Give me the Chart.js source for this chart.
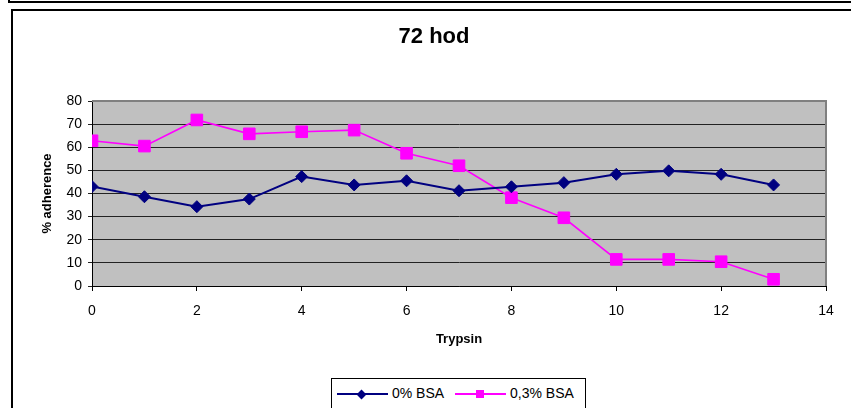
<!DOCTYPE html>
<html>
<head>
<meta charset="utf-8">
<script src="https://cdn.jsdelivr.net/npm/chart.js@4"></script>
<style>
  html, body { margin: 0; padding: 0; background: #fff; overflow: hidden; }
  body { width: 851px; height: 408px; position: relative; font-family: Arial, "Liberation Sans", sans-serif; }
  .frame-top { position: absolute; left: 8px; top: -18px; width: 900px; height: 21px; border: 2px solid #000; box-sizing: border-box; }
  .frame { position: absolute; left: 11px; top: 9px; width: 900px; height: 500px; border: 2px solid #000; box-sizing: border-box; }
  #chart { position: absolute; left: 0; top: 0; }
  .legend { position: absolute; left: 331px; top: 378px; width: 255px; height: 60px; border: 1px solid #000; background: #fff; box-sizing: border-box; }
  .legend .line { position: absolute; top: 14px; width: 51px; height: 0; border-top: 2px solid; }
  .legend .mark { position: absolute; width: 8px; height: 8px; left: 21px; top: -5px; }
  .legend .txt { position: absolute; top: 6px; font-size: 14px; color: #000; white-space: nowrap; }
</style>
</head>
<body>
<div class="frame-top"></div>
<div class="frame"></div>
<canvas id="chart" width="851" height="408"></canvas>
<div class="legend">
  <div class="line" style="left:5px;border-color:#000080">
    <div class="mark" style="background:#000080;transform:rotate(45deg);width:7px;height:7px;left:21px;top:-4.5px"></div>
  </div>
  <div class="txt" style="left:60px">0% BSA</div>
  <div class="line" style="left:123px;border-color:#ff00ff">
    <div class="mark" style="background:#ff00ff"></div>
  </div>
  <div class="txt" style="left:178px">0,3% BSA</div>
</div>
<script>
const trypsin = [0, 1, 2, 3, 4, 5, 6, 7, 8, 9, 10, 11, 12, 13];
const bsa0 = [43, 38.6, 34.3, 37.6, 47.3, 43.7, 45.5, 41.2, 42.9, 44.7, 48.3, 49.8, 48.3, 43.7];
const bsa03 = [62.8, 60.5, 71.8, 65.8, 66.7, 67.4, 57.4, 52, 38.2, 29.5, 11.5, 11.5, 10.5, 2.9];
const seriesNames = ['0% BSA', '0,3% BSA'];
const titleText = '72 hod';

const toPoints = vals => trypsin.map((t, i) => ({ x: t, y: vals[i] }));

// šedé pozadí plochy grafu + šedý rámeček nahoře a vpravo
const plotBg = {
  id: 'plotBg',
  beforeDraw(chart) {
    const { ctx, chartArea: a } = chart;
    ctx.save();
    ctx.fillStyle = '#c0c0c0';
    ctx.fillRect(a.left, a.top, a.right - a.left, a.bottom - a.top);
    ctx.restore();
  },
  beforeDatasetsDraw(chart) {
    const { ctx, chartArea: a } = chart;
    ctx.save();
    ctx.strokeStyle = '#808080';
    ctx.lineWidth = 2;
    ctx.beginPath();
    ctx.moveTo(a.left, a.top);
    ctx.lineTo(a.right, a.top);
    ctx.lineTo(a.right, a.bottom);
    ctx.stroke();
    ctx.restore();
  }
};

Chart.defaults.font.family = 'Arial, "Liberation Sans", sans-serif';
Chart.defaults.color = '#000';

new Chart(document.getElementById('chart').getContext('2d'), {
  type: 'line',
  data: {
    datasets: [
      {
        label: seriesNames[0],
        data: toPoints(bsa0),
        borderColor: '#000080',
        backgroundColor: '#000080',
        borderWidth: 2,
        pointStyle: 'rectRot',
        pointRadius: 6,
        pointBorderWidth: 1,
        tension: 0
      },
      {
        label: seriesNames[1],
        data: toPoints(bsa03),
        borderColor: '#ff00ff',
        backgroundColor: '#ff00ff',
        borderWidth: 1.6,
        pointStyle: 'rect',
        pointRadius: 8.2,
        pointBorderWidth: 1,
        tension: 0
      }
    ]
  },
  options: {
    responsive: false,
    animation: false,
    // levý okraj větší, aby nadpis byl posunutý doprava jako v originále
    layout: { padding: { left: 42, right: 25, top: 0, bottom: 0 } },
    plugins: {
      legend: { display: false },
      tooltip: { enabled: false },
      title: {
        display: true,
        text: titleText,
        color: '#000',
        font: { size: 22, weight: 'bold' },
        padding: { top: 24, bottom: 50.6 }
      }
    },
    scales: {
      x: {
        type: 'linear',
        min: 0,
        max: 14,
        afterFit: s => { s.height = 122; },
        ticks: { stepSize: 2, font: { size: 14 }, padding: 12, maxRotation: 0 },
        grid: { drawOnChartArea: false, drawTicks: true, tickLength: 5, color: '#000' },
        border: { color: '#000', width: 1 },
        title: { display: true, text: 'Trypsin', font: { size: 13, weight: 'bold' }, padding: { top: 0, bottom: 61 } }
      },
      y: {
        min: 0,
        max: 80,
        afterFit: s => { s.width = 50; },
        ticks: { stepSize: 10, font: { size: 14 }, padding: 6 },
        grid: { color: '#222', tickLength: 4, lineWidth: 1 },
        border: { color: '#000', width: 1 },
        title: { display: true, text: '% adherence', font: { size: 13, weight: 'bold' }, padding: { top: -2.8, bottom: 0 } }
      }
    }
  },
  plugins: [plotBg]
});
</script>
</body>
</html>
